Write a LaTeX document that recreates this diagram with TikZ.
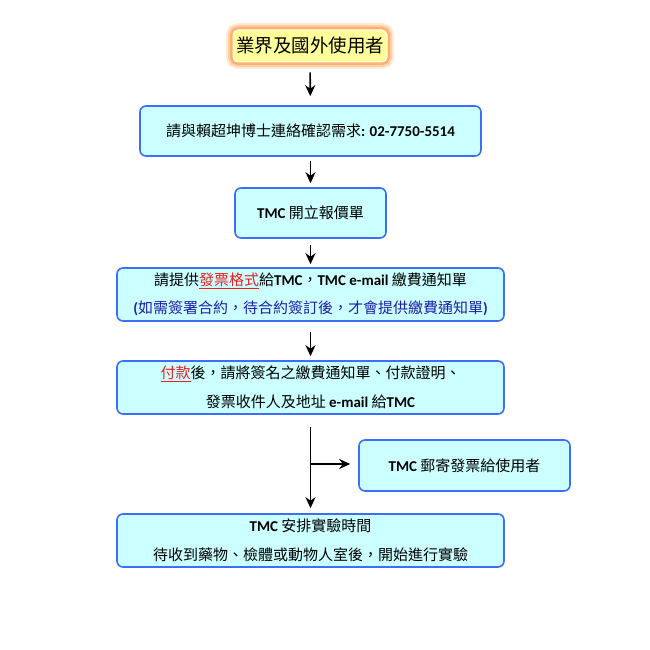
\documentclass[tikz,border=0pt]{standalone}
\usepackage{fontspec}
\setmainfont{Carlito}
\newfontfamily\cjk{Noto Sans CJK TC}
\usepackage{tikz}
\usetikzlibrary{arrows.meta, calc}

\definecolor{boxfill}{RGB}{204,255,255}
\definecolor{boxline}{RGB}{60,110,250}
\definecolor{startfill}{RGB}{255,255,153}
\definecolor{glow}{RGB}{255,150,60}
\definecolor{notered}{RGB}{240,30,30}
\definecolor{noteblue}{RGB}{30,30,170}

\newcommand{\en}[1]{{\rmfamily\bfseries #1}}

\tikzset{
    stepbox/.style={draw=boxline, fill=boxfill, line width=1.6pt, rounded corners=6pt,
        align=center, inner sep=2pt, font=\cjk\fontsize{15}{28.5}\selectfont},
    startbox/.style={draw=white, fill=startfill, line width=1pt, rounded corners=5pt,
        preaction={draw=glow!20, line width=14pt},
        preaction={draw=glow!45, line width=10pt},
        preaction={draw=glow!75, line width=6pt},
        align=center, inner sep=2pt, font=\cjk\fontsize{18.5}{20}\selectfont},
    flow/.style={-{Stealth[length=11pt, width=10pt, inset=3.5pt]}, line width=1.6pt}
}

\begin{document}
\begin{tikzpicture}[x=1pt, y=-1pt]
    \useasboundingbox (0,0) rectangle (650,650);

    \node[startbox, minimum width=154pt, minimum height=32pt] (user) at (310, 46) {業界及國外使用者};

    \node[stepbox, minimum width=341pt, minimum height=50pt] (contact) at (310.5, 131)
        {請與賴超坤博士連絡確認需求\en{: 02-7750-5514}};
    \node[stepbox, minimum width=151pt, minimum height=50pt] (quote) at (310.5, 213)
        {\en{TMC} 開立報價單};
    \node[stepbox, minimum width=387pt, minimum height=53pt] (invoice) at (310.5, 294.5)
        {請提供{\color{notered}\underline{發票格式}}給\en{TMC}，\en{TMC e-mail} 繳費通知單\\
         {\color{noteblue}\en{(}如需簽署合約，待合約簽訂後，才會提供繳費通知單\en{)}}};
    \node[stepbox, minimum width=387pt, minimum height=53pt] (pay) at (310.5, 387.5)
        {{\color{notered}\underline{付款}}後，請將簽名之繳費通知單、付款證明、\\
         發票收件人及地址 \en{e-mail} 給\en{TMC}};
    \node[stepbox, minimum width=211pt, minimum height=51pt] (mail) at (464.5, 465.5)
        {\en{TMC} 郵寄發票給使用者};
    \node[stepbox, minimum width=387pt, minimum height=53pt] (lab) at (310.5, 540.5)
        {\en{TMC} 安排實驗時間\\ 待收到藥物、檢體或動物人室後，開始進行實驗};

    % main flow
    \draw[flow, shorten <=10pt, shorten >=9pt] (user) -- (contact);
    \draw[flow, shorten <=4pt, shorten >=4pt] (contact) -- (quote);
    \draw[flow, shorten <=6pt, shorten >=3pt] (quote) -- (invoice);
    \draw[flow, shorten <=10pt, shorten >=4pt] (invoice) -- (pay);
    \draw[flow, shorten <=12pt, shorten >=5pt] (pay) -- (lab);

    % side branch
    \coordinate (split) at (310.5, 464);
    \draw[flow, shorten >=8pt] (split) -- (split -| mail.west);
\end{tikzpicture}
\end{document}
